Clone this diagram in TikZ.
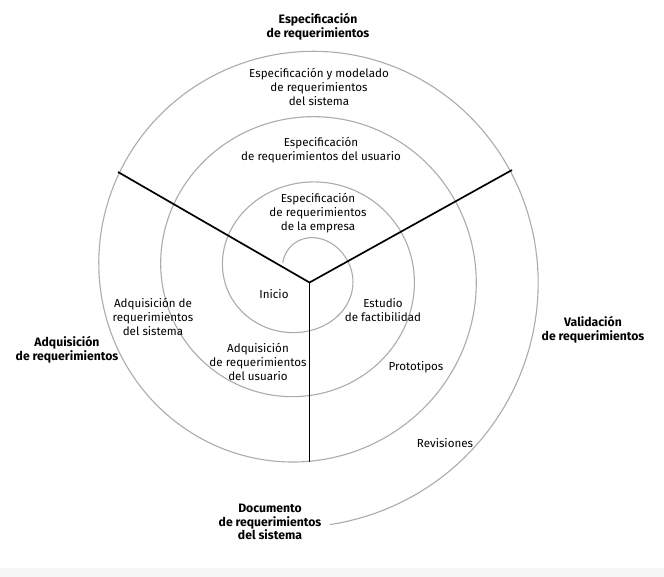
\documentclass[tikz,border=0pt]{standalone}
\usepackage{fontspec}
\setmainfont{Fira Sans}
\definecolor{spiralgray}{RGB}{172,172,172}
\definecolor{bandgray}{RGB}{247,247,247}
\begin{document}
\begin{tikzpicture}[x=1pt,y=-1pt,
  lbl/.style={align=center,font=\fontsize{11.6}{14}\selectfont,inner sep=0pt,text=black},
  blbl/.style={align=center,font=\fontsize{12.2}{13.8}\selectfont\bfseries,inner sep=0pt,text=black},
  spiralline/.style={draw=spiralgray,line width=1.1pt},
  axisline/.style={draw=black,line width=1.7pt}]
\useasboundingbox (0,0) rectangle (664,577);
\fill[white] (0,0) rectangle (664,577);
\fill[bandgray] (0,568) rectangle (664,577);
% spiral
\draw[spiralline] plot[domain=-0.17:3.483,samples=600,variable=\t]
  ({303+(33.5+62*\t)*sin(360*\t)},{273-(25+65.5*\t+9*exp(-8*\t*\t))*cos(360*\t)});
% axes
\coordinate (hub) at (309.5,282.5);
\coordinate (eL) at (118,172);
\coordinate (eR) at (512,170);
\coordinate (eB) at (309.5,462);
\draw[axisline] (eL) -- (hub) -- (eR);
\draw[axisline] (hub) -- (eB);
% labels
\node[blbl] (t1) at (318,27) {Especificación\\de requerimientos};
\node[lbl] (t2) at (319,87) {Especificación y modelado\\de requerimientos\\del sistema};
\node[lbl] (t3) at (321,150) {Especificación\\de requerimientos del usuario};
\node[lbl] (t4) at (318,213) {Especificación\\de requerimientos\\de la empresa};
\node[lbl] (t5) at (274,294) {Inicio};
\node[lbl] (t6) at (383,310) {Estudio\\de factibilidad};
\node[lbl] (t7) at (153,317) {Adquisición de\\requerimientos\\del sistema};
\node[blbl] (t8) at (67,350) {Adquisición\\de requerimientos};
\node[lbl] (t9) at (258,362) {Adquisición\\de requerimientos\\del usuario};
\node[lbl] (t10) at (416,367) {Prototipos};
\node[blbl] (t11) at (593,330) {Validación\\de requerimientos};
\node[lbl] (t12) at (445,443) {Revisiones};
\node[blbl] (t13) at (270,522) {Documento\\de requerimientos\\del sistema};
\end{tikzpicture}
\end{document}
